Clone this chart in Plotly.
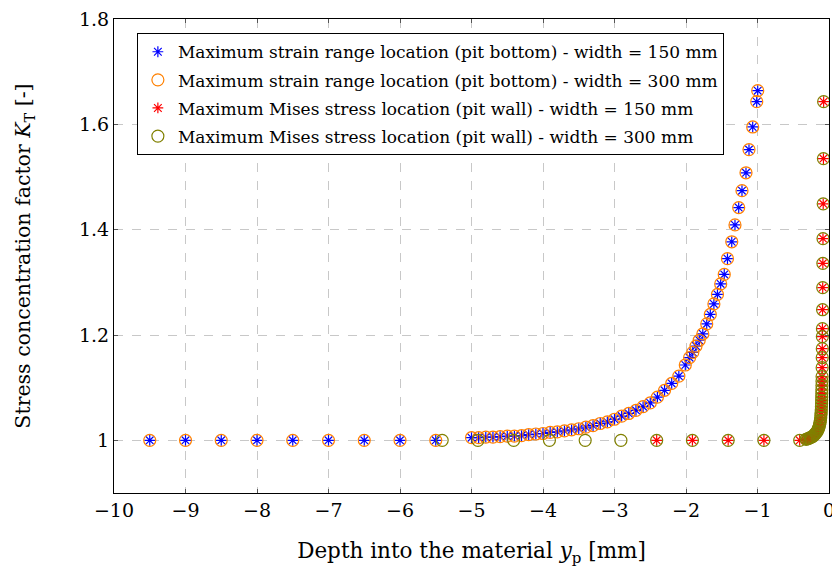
import plotly.graph_objects as go

# Pit bottom (maximum strain range location): depth y_p [mm] and K_T
bottom_depth = [-9.5, -9.0, -8.5, -8.0, -7.5, -7.0, -6.5, -6.0, -5.5,
                -5.0, -4.9, -4.8, -4.7, -4.6, -4.5, -4.4, -4.3, -4.2, -4.1,
                -4.0, -3.9, -3.8, -3.7, -3.6, -3.5, -3.4, -3.3, -3.2, -3.1,
                -3.0, -2.9, -2.8, -2.7, -2.6, -2.5, -2.4, -2.3, -2.2, -2.1,
                -2.01, -1.95, -1.905, -1.86, -1.815, -1.765, -1.71, -1.66,
                -1.61, -1.56, -1.515, -1.465, -1.42, -1.36, -1.315, -1.263,
                -1.217, -1.161, -1.119, -1.067, -1.011, -0.997]
kt_bottom_150 = [1.0, 1.0, 1.0, 1.0, 1.0, 1.0, 1.0, 1.0, 1.0,
                 1.005, 1.005, 1.006, 1.006, 1.007, 1.008, 1.008, 1.009, 1.011, 1.012,
                 1.013, 1.015, 1.016, 1.018, 1.020, 1.022, 1.025, 1.028, 1.032, 1.035,
                 1.040, 1.046, 1.051, 1.057, 1.064, 1.071, 1.082, 1.095, 1.108, 1.122,
                 1.143, 1.157, 1.167, 1.179, 1.190, 1.202, 1.221, 1.239,
                 1.259, 1.277, 1.297, 1.315, 1.345, 1.377, 1.409, 1.442,
                 1.474, 1.508, 1.552, 1.595, 1.643, 1.664]
kt_bottom_300 = [1.0, 1.0, 1.0, 1.0, 1.0, 1.0, 1.0, 1.0, 1.0,
                 1.005, 1.005, 1.006, 1.006, 1.007, 1.008, 1.008, 1.009, 1.011, 1.012,
                 1.013, 1.015, 1.016, 1.018, 1.020, 1.022, 1.025, 1.028, 1.032, 1.035,
                 1.040, 1.046, 1.051, 1.057, 1.064, 1.071, 1.082, 1.095, 1.108, 1.122,
                 1.143, 1.157, 1.167, 1.179, 1.190, 1.202, 1.221, 1.239,
                 1.259, 1.277, 1.297, 1.315, 1.345, 1.377, 1.409, 1.442,
                 1.474, 1.508, 1.552, 1.595, 1.643, 1.664]

# Pit wall (maximum Mises stress location), region close to the surface
wall_depth_near = [-0.075, -0.078, -0.081, -0.084, -0.086, -0.088, -0.090, -0.092,
                   -0.093, -0.094, -0.095, -0.096, -0.097, -0.098, -0.099, -0.100,
                   -0.101, -0.102, -0.103, -0.104, -0.106, -0.108, -0.110, -0.113,
                   -0.116, -0.120, -0.125, -0.131, -0.138, -0.146, -0.155, -0.165,
                   -0.176, -0.188, -0.201, -0.215, -0.230, -0.246, -0.263, -0.281,
                   -0.300, -0.320]
kt_wall_near = [1.643, 1.535, 1.449, 1.383, 1.336, 1.290, 1.248, 1.212,
                1.197, 1.174, 1.157, 1.138, 1.121, 1.112, 1.104, 1.096,
                1.089, 1.082, 1.076, 1.070, 1.064, 1.058, 1.053, 1.048,
                1.043, 1.038, 1.034, 1.030, 1.026, 1.023, 1.020, 1.017,
                1.015, 1.013, 1.011, 1.009, 1.007, 1.006, 1.005, 1.004,
                1.003, 1.002]

# Coarse pit wall samples further from the surface
wall_depth_150 = [-2.41, -1.91, -1.41, -0.91, -0.41]
kt_wall_150 = [1.0, 1.0, 1.0, 1.0, 1.0]
wall_depth_300 = [-5.41, -4.91, -4.41, -3.91, -3.41, -2.91, -2.41, -1.91, -1.41, -0.91, -0.41]
kt_wall_300 = [1.0, 1.0, 1.0, 1.0, 1.0, 1.0, 1.0, 1.0, 1.0, 1.0, 1.0]

x_ticks = [-10, -9, -8, -7, -6, -5, -4, -3, -2, -1, 0]
y_ticks = [1.0, 1.2, 1.4, 1.6, 1.8]
y_tick_text = ["1", "1.2", "1.4", "1.6", "1.8"]

names = [
    "Maximum strain range location (pit bottom) - width = 150 mm",
    "Maximum strain range location (pit bottom) - width = 300 mm",
    "Maximum Mises stress location (pit wall) - width = 150 mm",
    "Maximum Mises stress location (pit wall) - width = 300 mm",
]

FONT = "DejaVu Serif"
fig = go.Figure()

fig.add_trace(go.Scatter(
    x=bottom_depth, y=kt_bottom_150, mode="markers", name=names[0], legendgroup="a",
    marker=dict(symbol="asterisk-open", size=9, color="rgb(0,0,255)",
                line=dict(color="rgb(0,0,255)", width=1.2))))
fig.add_trace(go.Scatter(
    x=bottom_depth, y=kt_bottom_300, mode="markers", name=names[1], legendgroup="b",
    marker=dict(symbol="circle-open", size=12, color="rgb(255,128,0)",
                line=dict(color="rgb(255,128,0)", width=1.2))))
fig.add_trace(go.Scatter(
    x=wall_depth_150 + wall_depth_near, y=kt_wall_150 + kt_wall_near,
    mode="markers", name=names[2], legendgroup="c",
    marker=dict(symbol="asterisk-open", size=9, color="rgb(255,0,0)",
                line=dict(color="rgb(255,0,0)", width=1.2))))
fig.add_trace(go.Scatter(
    x=wall_depth_300 + wall_depth_near, y=kt_wall_300 + kt_wall_near,
    mode="markers", name=names[3], legendgroup="d",
    marker=dict(symbol="circle-open", size=12, color="rgb(128,128,0)",
                line=dict(color="rgb(128,128,0)", width=1.2))))

axis_common = dict(
    showline=True, linecolor="black", linewidth=1, mirror="allticks",
    ticks="inside", ticklen=4, tickcolor="#555555", tickwidth=1,
    showgrid=True, gridcolor="#c8c8c8", griddash="dash", gridwidth=1,
    zeroline=False, ticklabeloverflow="allow", automargin=False,
    tickfont=dict(family=FONT, size=19, color="black"),
)

fig.update_xaxes(range=[-10, 0], tickvals=x_ticks,
                 title=dict(text="Depth into the material <i>y</i><sub>p</sub> [mm]",
                            font=dict(family=FONT, size=21.5, color="black"), standoff=23),
                 **axis_common)
fig.update_yaxes(range=[0.9, 1.8], tickvals=y_ticks, ticktext=y_tick_text,
                 title=dict(text="Stress concentration factor <i>K</i><sub>T</sub> [-]",
                            font=dict(family=FONT, size=20.5, color="black"), standoff=42),
                 **axis_common)

fig.update_layout(
    width=832, height=571,
    margin=dict(l=114, r=3, t=19, b=78, autoexpand=False),
    plot_bgcolor="white", paper_bgcolor="white",
    font=dict(family=FONT, color="black"),
    showlegend=True,
    legend=dict(x=0.032, y=0.97, xanchor="left", yanchor="top",
                bgcolor="white", bordercolor="black", borderwidth=1,
                font=dict(family=FONT, size=17, color="black"),
                traceorder="grouped", tracegroupgap=3,
                itemsizing="trace"),
)

fig.write_html("out.html")
